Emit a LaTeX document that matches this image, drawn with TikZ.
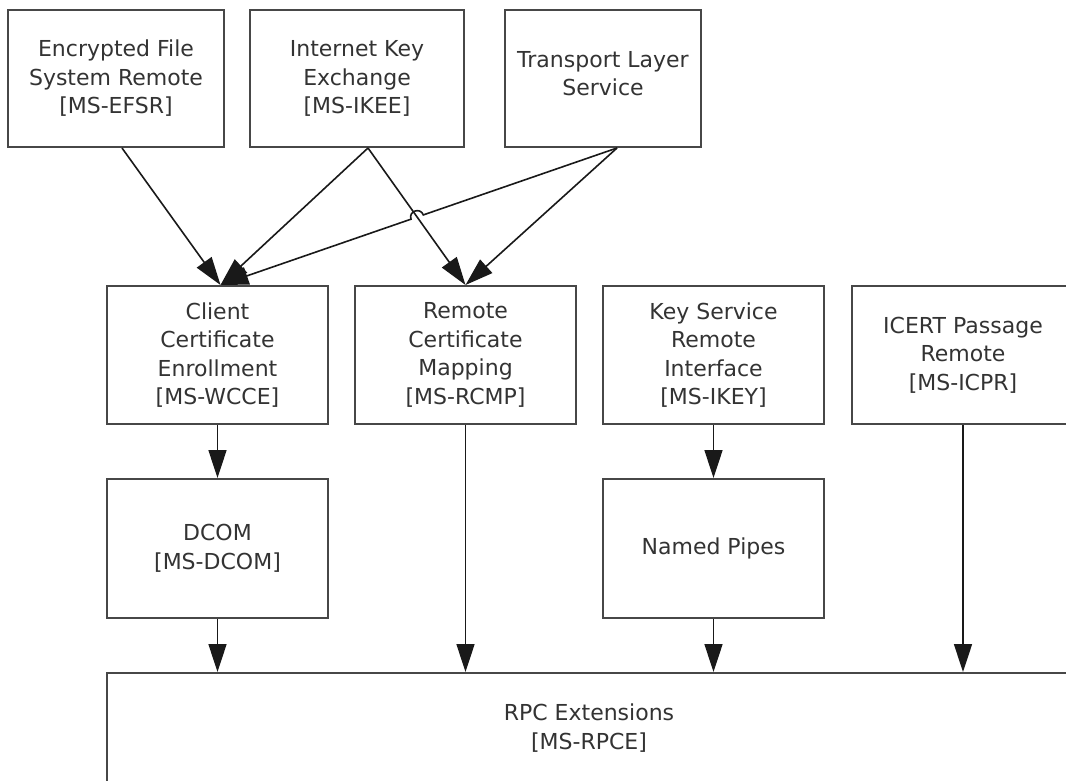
\documentclass[tikz,border=0pt]{standalone}
\usepackage{fontspec}
\setmainfont{DejaVu Sans}
\usetikzlibrary{arrows.meta,calc,intersections}
\begin{document}
\begin{tikzpicture}[x=1pt,y=-1pt,
  box/.style={draw=black!72, line width=2pt, fill=white, align=center, inner sep=0pt,
    text=black!80, font=\fontsize{22}{28.5}\selectfont},
  arr/.style={draw=black!90, line width=1.6pt, -{Triangle[length=28pt,width=18pt]}}]
\useasboundingbox (0,0) rectangle (1066,780);
\clip (0,0) rectangle (1066,780);
\fill[white] (0,0) rectangle (1066,780);
% top row
\node[box, minimum width=216pt, minimum height=137pt] (efsr) at (116,78.5) {Encrypted File\\System Remote\\{[MS-EFSR]}};
\node[box, minimum width=214pt, minimum height=137pt] (ikee) at (357,78.5) {Internet Key\\Exchange\\{[MS-IKEE]}};
\node[box, minimum width=196pt, minimum height=137pt, text depth=10pt] (tls) at (603,78.5) {Transport Layer\\Service};
% middle row
\node[box, minimum width=221pt, minimum height=138pt] (cli) at (217.5,355) {Client\\Certificate\\Enrollment\\{[MS-WCCE]}};
\node[box, minimum width=221pt, minimum height=138pt] (rcm) at (465.5,355) {Remote\\Certificate\\Mapping\\{[MS-RCMP]}};
\node[box, minimum width=221pt, minimum height=138pt] (kys) at (713.5,355) {Key Service\\Remote\\Interface\\{[MS-IKEY]}};
\node[box, minimum width=222pt, minimum height=138pt] (icp) at (963,355) {ICERT Passage\\Remote\\{[MS-ICPR]}};
% third row
\node[box, minimum width=221pt, minimum height=139pt] (dcom) at (217.5,548.5) {DCOM\\{[MS-DCOM]}};
\node[box, minimum width=221pt, minimum height=139pt] (np) at (713.5,548.5) {Named Pipes};
% bottom
\node[box, minimum width=964pt, minimum height=110pt] (rpc) at (589,728) {RPC Extensions\\{[MS-RPCE]}};
% connector end points
\coordinate (efsrS) at ($(efsr.south)+(6,0)$);
\coordinate (ikeeS) at ($(ikee.south)+(11,0)$);
\coordinate (tlsS) at ($(tls.south)+(14,0)$);
\coordinate (cliIn) at ($(cli.north)+(3,0)$);
\coordinate (rcmIn) at (rcm.north);
% diagonal connectors
\draw[arr] (efsrS) -- (cliIn);
\draw[arr] (ikeeS) -- (cliIn);
\draw[arr] (ikeeS) -- (rcmIn);
\draw[arr] (tlsS) -- (rcmIn);
\path[name path=pa] (ikeeS) -- (rcmIn);
\path[name path=pb] (tlsS) -- (cliIn);
\path[name intersections={of=pa and pb, by=X}];
\coordinate (hb) at ($(X)!6.5pt!(tlsS)$);
\coordinate (ha) at ($(X)!6.5pt!(cliIn)$);
\draw[arr] (tlsS) -- (hb) .. controls ($(hb)!8.5pt!90:(tlsS)$) and ($(ha)!8.5pt!-90:(cliIn)$) .. (ha) -- (cliIn);
% vertical connectors
\draw[arr] (cli.south) -- (dcom.north);
\draw[arr] (kys.south) -- (np.north);
\draw[arr] (dcom.south) -- (dcom.south |- rpc.north);
\draw[arr] (rcm.south) -- (rcm.south |- rpc.north);
\draw[arr] (np.south) -- (np.south |- rpc.north);
\draw[arr] (icp.south) -- (icp.south |- rpc.north);
\end{tikzpicture}
\end{document}
